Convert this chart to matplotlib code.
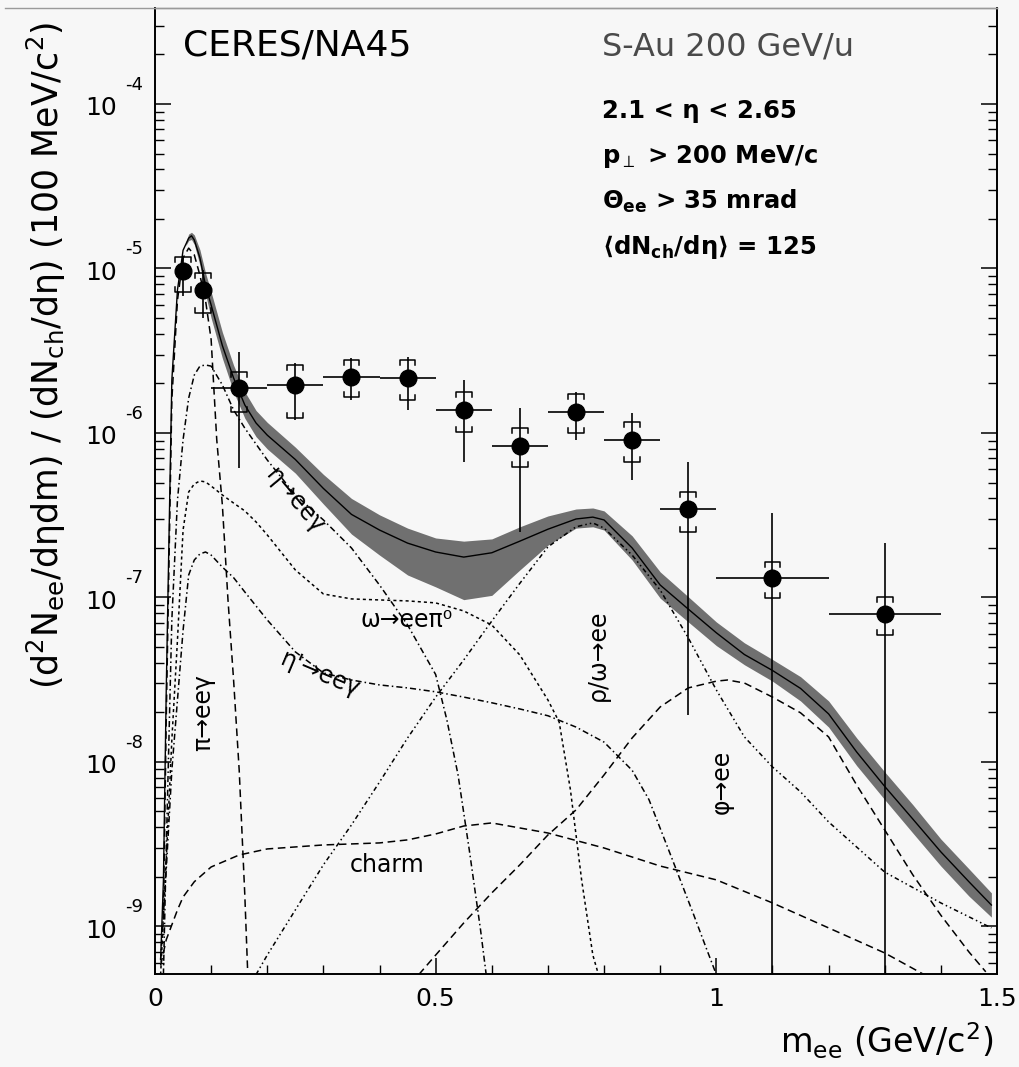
import numpy as np
import matplotlib
matplotlib.use("Agg")
import matplotlib.pyplot as plt
from matplotlib.lines import Line2D
from matplotlib.ticker import LogLocator, MultipleLocator, NullFormatter

plt.rcParams['font.family'] = ['DejaVu Sans']
plt.rcParams['mathtext.default'] = 'regular'

# measured e+e- pairs, S-Au 200 GeV/u
m_data = [0.05, 0.085, 0.15, 0.25, 0.35, 0.45, 0.55, 0.65, 0.75, 0.85, 0.95, 1.1, 1.3]
m_halfbin = [0.0, 0.0, 0.05, 0.05, 0.05, 0.05, 0.05, 0.05, 0.05, 0.05, 0.05, 0.1, 0.1]
y_data = [9.7e-6, 7.4e-6, 1.88e-6, 1.96e-6, 2.19e-6, 2.16e-6, 1.38e-6, 8.3e-7,
          1.34e-6, 9.1e-7, 3.45e-7, 1.31e-7, 7.9e-8]
# statistical limits (lower, upper)
stat_low = [6.8e-6, 5.0e-6, 6.1e-7, 1.20e-6, 1.59e-6, 1.38e-6, 6.7e-7, 2.5e-7,
            9.1e-7, 5.2e-7, 1.93e-8, 0.0, 0.0]
stat_high = [1.19e-5, 9.8e-6, 3.11e-6, 2.67e-6, 2.86e-6, 2.90e-6, 2.10e-6, 1.42e-6,
             1.77e-6, 1.32e-6, 6.67e-7, 3.27e-7, 2.14e-7]
# systematic limits
sys_low = [7.2e-6, 5.36e-6, 1.34e-6, 1.23e-6, 1.66e-6, 1.59e-6, 1.01e-6, 6.2e-7,
           1.0e-6, 6.7e-7, 2.5e-7, 9.9e-8, 5.9e-8]
sys_high = [1.175e-5, 9.4e-6, 2.35e-6, 2.59e-6, 2.78e-6, 2.78e-6, 1.77e-6, 1.07e-6,
            1.73e-6, 1.17e-6, 4.37e-7, 1.64e-7, 1.0e-7]

# hadron decay cocktail, sum of all sources
sum_m = [0.01, 0.015, 0.02, 0.03, 0.04, 0.05, 0.06, 0.065, 0.07, 0.08,
         0.09, 0.1, 0.12, 0.14, 0.16, 0.18, 0.2, 0.25, 0.3, 0.35,
         0.4, 0.45, 0.5, 0.55, 0.6, 0.65, 0.7, 0.75, 0.78, 0.8,
         0.85, 0.9, 0.95, 1.0, 1.05, 1.1, 1.15, 1.2, 1.25, 1.3,
         1.35, 1.4, 1.45, 1.49]
sum_y = [6.3e-10, 1.9e-9, 2.7e-8, 2.1e-6, 7.4e-6, 1.29e-5, 1.53e-5, 1.58e-5, 1.49e-5, 1.16e-5,
         7.9e-6, 6.0e-6, 3.4e-6, 2.16e-6, 1.48e-6, 1.15e-6, 9.7e-7, 6.9e-7, 4.6e-7, 3.2e-7,
         2.57e-7, 2.14e-7, 1.89e-7, 1.76e-7, 1.87e-7, 2.2e-7, 2.6e-7, 3.0e-7, 3.08e-7, 2.96e-7,
         2.0e-7, 1.19e-7, 8.5e-8, 6.1e-8, 4.5e-8, 3.6e-8, 2.8e-8, 1.96e-8, 1.15e-8, 7.1e-9,
         4.5e-9, 2.84e-9, 1.87e-9, 1.35e-9]

# systematic band of the cocktail
band_m = [0.055, 0.06, 0.065, 0.07, 0.08, 0.09, 0.1, 0.12, 0.14, 0.16,
          0.18, 0.2, 0.25, 0.3, 0.35, 0.4, 0.45, 0.5, 0.55, 0.6,
          0.65, 0.7, 0.75, 0.78, 0.8, 0.85, 0.9, 0.95, 1.0, 1.05,
          1.1, 1.15, 1.2, 1.25, 1.3, 1.35, 1.4, 1.45, 1.49]
band_high = [1.45e-5, 1.62e-5, 1.66e-5, 1.6e-5, 1.3e-5, 9.4e-6, 7.2e-6, 4.1e-6, 2.58e-6, 1.78e-6,
             1.37e-6, 1.16e-6, 8.2e-7, 5.6e-7, 4.0e-7, 3.18e-7, 2.64e-7, 2.30e-7, 2.20e-7, 2.27e-7,
             2.69e-7, 3.13e-7, 3.45e-7, 3.50e-7, 3.36e-7, 2.37e-7, 1.43e-7, 1.01e-7, 7.1e-8, 5.3e-8,
             4.2e-8, 3.3e-8, 2.35e-8, 1.40e-8, 8.7e-9, 5.5e-9, 3.4e-9, 2.24e-9, 1.60e-9]
band_low = [1.38e-5, 1.48e-5, 1.5e-5, 1.4e-5, 1.05e-5, 7.0e-6, 5.0e-6, 2.85e-6, 1.78e-6, 1.23e-6,
            9.5e-7, 8.0e-7, 5.7e-7, 3.7e-7, 2.43e-7, 1.81e-7, 1.37e-7, 1.16e-7, 9.7e-8, 1.03e-7,
            1.47e-7, 2.08e-7, 2.64e-7, 2.69e-7, 2.57e-7, 1.69e-7, 9.9e-8, 7.1e-8, 5.1e-8, 3.9e-8,
            3.1e-8, 2.35e-8, 1.63e-8, 9.5e-9, 5.9e-9, 3.7e-9, 2.33e-9, 1.53e-9, 1.14e-9]

# single sources
pi0_m = [0.015, 0.02, 0.03, 0.04, 0.05, 0.06, 0.07, 0.08, 0.09, 0.1, 0.11, 0.12, 0.13,
         0.14, 0.15, 0.16, 0.165]
pi0_y = [1.26e-9, 1.8e-8, 1.59e-6, 6.4e-6, 1.16e-5, 1.33e-5, 1.21e-5, 9.1e-6, 6.4e-6, 3.7e-6,
         9.1e-7, 3.65e-7, 9.7e-8, 3.15e-8, 8.9e-9, 1.55e-9, 5.4e-10]

eta_m = [0.015, 0.02, 0.03, 0.04, 0.05, 0.06, 0.07, 0.08, 0.09, 0.1, 0.12, 0.14, 0.16,
         0.2, 0.25, 0.3, 0.35, 0.4, 0.45, 0.5, 0.52, 0.54, 0.56, 0.58, 0.59]
eta_y = [5.1e-10, 2.9e-9, 7.3e-8, 3.9e-7, 9.1e-7, 1.63e-6, 2.25e-6, 2.55e-6, 2.59e-6, 2.55e-6,
         1.96e-6, 1.38e-6, 1.07e-6, 6.85e-7, 4.2e-7, 2.96e-7, 2.0e-7, 1.19e-7, 6.8e-8, 3.4e-8,
         1.8e-8, 8.3e-9, 2.9e-9, 9.5e-10, 5.1e-10]

omd_m = [0.01, 0.02, 0.03, 0.04, 0.05, 0.06, 0.07, 0.08, 0.09, 0.1, 0.12, 0.14, 0.16, 0.18,
         0.2, 0.25, 0.3, 0.35, 0.4, 0.45, 0.5, 0.55, 0.6, 0.65, 0.7, 0.72, 0.74, 0.76, 0.78, 0.79]
omd_y = [5.1e-10, 2.54e-9, 1.36e-8, 5.5e-8, 2.57e-7, 4.38e-7, 4.9e-7, 5.11e-7, 5.04e-7, 4.76e-7,
         4.2e-7, 3.75e-7, 3.36e-7, 2.88e-7, 2.4e-7, 1.47e-7, 1.05e-7, 9.8e-8, 9.66e-8, 9.53e-8,
         9.27e-8, 8.28e-8, 6.8e-8, 4.47e-8, 2.38e-8, 1.75e-8, 6.8e-9, 1.92e-9, 6.7e-10, 5.1e-10]

etap_m = [0.01, 0.02, 0.03, 0.04, 0.05, 0.06, 0.07, 0.08, 0.09, 0.1, 0.12, 0.14, 0.16, 0.2,
          0.25, 0.3, 0.35, 0.4, 0.45, 0.5, 0.55, 0.6, 0.65, 0.7, 0.75, 0.8, 0.85, 0.88, 0.92,
          0.96, 0.98, 1.0]
etap_y = [6.3e-10, 2.2e-9, 8.9e-9, 2.38e-8, 6.3e-8, 1.37e-7, 1.69e-7, 1.84e-7, 1.89e-7, 1.81e-7,
          1.53e-7, 1.32e-7, 1.08e-7, 7.3e-8, 4.67e-8, 3.48e-8, 3.15e-8, 2.94e-8, 2.82e-8, 2.67e-8,
          2.48e-8, 2.29e-8, 2.1e-8, 1.91e-8, 1.63e-8, 1.32e-8, 8.9e-9, 5.9e-9, 2.64e-9, 1.17e-9,
          7.7e-10, 5.1e-10]

rho_m = [0.18, 0.2, 0.25, 0.3, 0.35, 0.4, 0.45, 0.5, 0.55, 0.6, 0.65, 0.7, 0.75, 0.78, 0.8,
         0.85, 0.9, 0.95, 1.0, 1.05, 1.1, 1.15, 1.2, 1.3, 1.4, 1.49]
rho_y = [5.1e-10, 6.7e-10, 1.26e-9, 2.37e-9, 4.14e-9, 7.55e-9, 1.4e-8, 2.48e-8, 4.17e-8, 7.19e-8,
         1.22e-7, 2.03e-7, 2.69e-7, 2.84e-7, 2.64e-7, 1.81e-7, 1.11e-7, 5.68e-8, 2.74e-8, 1.42e-8,
         9.33e-9, 6.58e-9, 4.32e-9, 2.14e-9, 1.39e-9, 9.8e-10]

phi_m = [0.47, 0.5, 0.55, 0.6, 0.65, 0.7, 0.75, 0.8, 0.85, 0.9, 0.95, 1.0, 1.02, 1.05, 1.1,
         1.15, 1.2, 1.25, 1.3, 1.35, 1.4, 1.45, 1.48]
phi_y = [5.1e-10, 6.7e-10, 1.05e-9, 1.6e-9, 2.37e-9, 3.6e-9, 5.11e-9, 8.34e-9, 1.4e-8, 2.16e-8,
         2.82e-8, 3.1e-8, 3.15e-8, 3.02e-8, 2.48e-8, 1.99e-8, 1.42e-8, 7.24e-9, 3.86e-9, 2.06e-9,
         1.17e-9, 7.0e-10, 5.3e-10]

charm_m = [0.01, 0.02, 0.04, 0.05, 0.07, 0.1, 0.15, 0.2, 0.3, 0.4, 0.45, 0.5, 0.55, 0.6, 0.65,
           0.7, 0.8, 0.9, 1.0, 1.1, 1.2, 1.3, 1.37]
charm_y = [5.8e-10, 8.3e-10, 1.26e-9, 1.51e-9, 1.87e-9, 2.3e-9, 2.72e-9, 2.96e-9, 3.13e-9,
           3.22e-9, 3.36e-9, 3.65e-9, 4.08e-9, 4.26e-9, 3.97e-9, 3.7e-9, 3.0e-9, 2.33e-9,
           1.92e-9, 1.39e-9, 9.8e-10, 6.9e-10, 5.1e-10]

x_ticks = [0, 0.5, 1, 1.5]
x_ticklabels = ["0", "0.5", "1", "1.5"]
y_decades = [-9, -8, -7, -6, -5, -4]

bg = '#f7f7f7'
fig = plt.figure(figsize=(10.19, 10.67), dpi=100, facecolor=bg)
ax = fig.add_axes([155 / 1019, 1 - 974 / 1067, 842 / 1019, 966 / 1067], facecolor=bg)

ax.set_yscale('log')
ax.set_xlim(0, 1.5)
ax.set_ylim(10 ** -9.289, 10 ** -3.4164)

# cocktail band + sum
ax.fill_between(band_m, band_low, band_high, color='#707070', lw=0, zorder=1)
ax.plot(sum_m, sum_y, color='k', lw=1.0, zorder=3)

lw_c = 1.1
ax.plot(pi0_m, pi0_y, color='k', lw=lw_c, ls=(0, (5, 3)), zorder=2)
ax.plot(eta_m, eta_y, color='k', lw=lw_c, ls=(0, (4, 2, 1, 2)), zorder=2)
ax.plot(omd_m, omd_y, color='k', lw=lw_c, ls=(0, (2, 2)), zorder=2)
ax.plot(etap_m, etap_y, color='k', lw=lw_c, ls=(0, (4, 2, 1, 2)), zorder=2)
ax.plot(rho_m, rho_y, color='k', lw=lw_c, ls=(0, (3, 2, 1, 2, 1, 2)), zorder=2)
ax.plot(phi_m, phi_y, color='k', lw=lw_c, ls=(0, (5, 3)), zorder=2)
ax.plot(charm_m, charm_y, color='k', lw=lw_c, ls=(0, (5, 3)), zorder=2)

# data with statistical errors
y_arr = np.array(y_data)
yerr = [y_arr - np.array(stat_low), np.array(stat_high) - y_arr]
ax.errorbar(m_data, y_data, xerr=m_halfbin, yerr=yerr, fmt='o', color='k',
            ms=12, elinewidth=1.2, capsize=0, zorder=5)

# systematic brackets
w = 0.014
leg = 10 ** 0.03
for m, lo, hi in zip(m_data, sys_low, sys_high):
    ax.plot([m - w, m - w, m + w, m + w], [hi / leg, hi, hi, hi / leg], color='k', lw=1.1, zorder=5)
    ax.plot([m - w, m - w, m + w, m + w], [lo * leg, lo, lo, lo * leg], color='k', lw=1.1, zorder=5)

# axes styling
for side in ['left', 'right', 'bottom']:
    ax.spines[side].set_linewidth(1.4)
ax.spines['top'].set_color('#9a9a9a')
ax.spines['top'].set_linewidth(1.0)
fig.add_artist(Line2D([5 / 1019, 997 / 1019], [1 - 8 / 1067, 1 - 8 / 1067], color='#9a9a9a', lw=1.0))

ax.yaxis.set_major_locator(LogLocator(base=10, numticks=20))
ax.yaxis.set_minor_locator(LogLocator(base=10, subs=np.arange(2, 10), numticks=20))
ax.yaxis.set_major_formatter(NullFormatter())
ax.yaxis.set_minor_formatter(NullFormatter())
ax.tick_params(axis='y', which='major', direction='in', length=11.5, width=1.1, left=True, right=True)
ax.tick_params(axis='y', which='minor', direction='in', length=6.5, width=1.0, left=True, right=True)

ax.set_xticks(x_ticks)
ax.set_xticklabels(x_ticklabels)
ax.xaxis.set_minor_locator(MultipleLocator(0.1))
ax.tick_params(axis='x', which='major', direction='in', length=11.5, width=1.1, top=False,
               labelsize=18, pad=9)
ax.tick_params(axis='x', which='minor', direction='in', length=6.5, width=1.0, top=False)

ytr = ax.get_yaxis_transform()
for k in y_decades:
    ax.annotate("10", xy=(-0.064, 10.0 ** k), xycoords=ytr, xytext=(0, -3),
                textcoords='offset points', ha='center', va='center', fontsize=18)
    ax.annotate(str(k), xy=(-0.025, 10.0 ** k), xycoords=ytr, xytext=(0, 14),
                textcoords='offset points', ha='center', va='center', fontsize=13)

# titles and cuts
ax.text(0.0333, 0.951, "CERES/NA45", transform=ax.transAxes, fontsize=26, va='baseline')
ax.text(0.531, 0.951, "S-Au 200 GeV/u", transform=ax.transAxes, fontsize=23,
        va='baseline', color='#4a4a4a')
info = ["2.1 < η < 2.65",
        "p$_{\\perp}$ > 200 MeV/c",
        "Θ$_{ee}$ > 35 mrad",
        "$\\langle$dN$_{ch}$/dη$\\rangle$ = 125"]
for s, yy in zip(info, [0.886, 0.840, 0.792, 0.745]):
    ax.text(0.531, yy, s, transform=ax.transAxes, fontsize=17.5, fontweight='bold', va='baseline')

# source labels
lab = dict(transform=ax.transAxes, fontsize=17, ha='center', va='center')
ax.text(0.166, 0.490, "η→eeγ", rotation=-50, **lab)
ax.text(0.299, 0.366, "ω→eeπ⁰", **lab)
ax.text(0.196, 0.310, "η'→eeγ", rotation=-23, **lab)
ax.text(0.057, 0.271, "π→eeγ", rotation=90, **lab)
ax.text(0.526, 0.330, "ρ/ω→ee", rotation=90, **lab)
ax.text(0.673, 0.199, "φ→ee", rotation=90, **lab)
ax.text(0.2755, 0.113, "charm", **lab)

fig.text(46 / 1019, 1 - 355 / 1067,
         "(d$^2$N$_{ee}$/dηdm) / (dN$_{ch}$/dη) (100 MeV/c$^2$)",
         rotation=90, ha='center', va='center', fontsize=25)
fig.text(993 / 1019, 1 - 1053 / 1067, "m$_{ee}$ (GeV/c$^2$)", ha='right', va='baseline',
         fontsize=24)

fig.savefig("out.png", dpi=100, facecolor=bg)
